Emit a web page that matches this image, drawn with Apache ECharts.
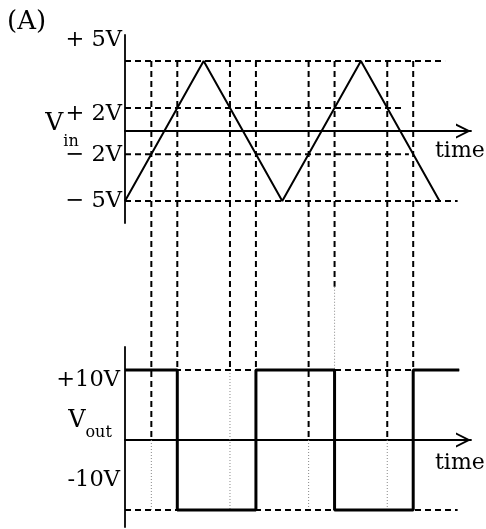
<!DOCTYPE html>
<html>
<head>
<meta charset="utf-8">
<title>Vin / Vout</title>
<script src="https://cdn.jsdelivr.net/npm/echarts@6/dist/echarts.min.js"></script>
<style>
	html, body { margin: 0; padding: 0; background: #fff; }
	#main { width: 486px; height: 529px; }
</style>
</head>
<body>
<div id="main"></div>
<script>
	// input triangle wave
	var vinTime = [0, 10, 20, 30, 40];
	var vinVolts = [-5, 5, -5, 5, -5];
	// output square wave
	var voutTime = [0, 6.65, 6.65, 16.65, 16.65, 26.65, 26.65, 36.65, 36.65, 42.5];
	var voutVolts = [10, 10, -10, -10, 10, 10, -10, -10, 10, 10];

	// dashed levels of the input plot (as drawn) and where each stops
	var vinLevels = [5, 1.65, -1.65, -5];
	var vinLevelEnds = [40.7, 35.6, 36.1, 42.3];
	var vinTickLabels = ['+ 5V', '+ 2V', '− 2V', '− 5V'];
	// dashed levels of the output plot
	var voutLevels = [10, -10];
	var voutLevelEnds = [42.5, 42.3];
	var voutTickLabels = ['+10V', '-10V'];

	// times where the input crosses the thresholds
	var crossTimes = [3.35, 6.65, 13.35, 16.65, 23.35, 26.65, 33.35, 36.65];
	// output value where the dashed guide stops, then where its dotted part stops
	var guideDashEnd = [0, 10, 10, 10, 0, 21.9, 0, 10];
	var guideDotEnd = [-10, 10, -10, 10, -10, 10, -10, 10];

	// label nudges in px (down is +), layout only
	var vinLabelShift = [-21, 6, 1, 0];
	var voutLabelShift = [10, -30];

	var FONT = '"DejaVu Serif"';
	var arrow = 'path://M50,0 L100,100 L86,100 L50,28 L14,100 L0,100 Z';

	function labelFormatter(values, labels, key) {
		return function (val) {
			for (var i = 0; i < values.length; i++) {
				if (Math.abs(values[i] - val) < 1e-6) {
					return '{' + key + i + '|' + labels[i] + '}';
				}
			}
			return '';
		};
	}
	function labelRich(shifts, key) {
		var rich = {};
		shifts.forEach(function (s, i) {
			rich[key + i] = {
				fontFamily: FONT,
				fontSize: 22.5,
				color: '#000',
				padding: s < 0 ? [0, 0, -2 * s, 0] : [2 * s, 0, 0, 0]
			};
		});
		return rich;
	}
	function zip(a, b) {
		return a.map(function (v, i) { return [v, b[i]]; });
	}

	var myChart = echarts.init(document.getElementById('main'));

	var series = [];

	// vertical guides from the input plot down into the output plot
	series.push({
		type: 'custom',
		xAxisIndex: 1,
		yAxisIndex: 1,
		z: 1,
		silent: true,
		data: crossTimes.map(function (t, i) { return [t, guideDashEnd[i], guideDotEnd[i]]; }),
		renderItem: function (params, api) {
			var t = api.value(0);
			var top = myChart.convertToPixel({gridIndex: 0}, [t, vinLevels[0]]);
			var mid = api.coord([t, api.value(1)]);
			var end = api.coord([t, api.value(2)]);
			var kids = [{
				type: 'line',
				shape: {x1: mid[0], y1: top[1], x2: mid[0], y2: mid[1]},
				style: {stroke: '#000', lineWidth: 2, lineDash: [6, 4]}
			}];
			if (api.value(2) !== api.value(1)) {
				kids.push({
					type: 'line',
					shape: {x1: mid[0], y1: mid[1], x2: end[0], y2: end[1]},
					style: {stroke: '#888', lineWidth: 1, lineDash: [1, 2]}
				});
			}
			return {type: 'group', children: kids};
		}
	});

	vinLevels.forEach(function (lv, i) {
		series.push({
			type: 'line', xAxisIndex: 0, yAxisIndex: 0, z: 1, silent: true,
			symbol: 'none',
			data: [[0, lv], [vinLevelEnds[i], lv]],
			lineStyle: {color: '#000', width: 2, type: [6, 4]}
		});
	});
	voutLevels.forEach(function (lv, i) {
		series.push({
			type: 'line', xAxisIndex: 1, yAxisIndex: 1, z: 1, silent: true,
			symbol: 'none',
			data: [[0, lv], [voutLevelEnds[i], lv]],
			lineStyle: {color: '#000', width: 2, type: [6, 4]}
		});
	});

	series.push({
		name: 'Vin', type: 'line', xAxisIndex: 0, yAxisIndex: 0, z: 3,
		symbol: 'none',
		data: zip(vinTime, vinVolts),
		lineStyle: {color: '#000', width: 2}
	});
	series.push({
		name: 'Vout', type: 'line', xAxisIndex: 1, yAxisIndex: 1, z: 3,
		symbol: 'none',
		data: zip(voutTime, voutVolts),
		lineStyle: {color: '#000', width: 3}
	});

	function timeAxis(gridIndex, nameDrop) {
		return {
			type: 'value', gridIndex: gridIndex, min: 0, max: 44,
			name: '{t|time}', nameLocation: 'end', nameGap: -36,
			nameTextStyle: {
				align: 'left', verticalAlign: 'middle',
				rich: {
					t: {fontFamily: FONT, fontSize: 22, color: '#000', padding: [nameDrop * 2, 0, 0, 0]}
				}
			},
			axisLine: {
				show: true, onZero: true,
				symbol: ['none', arrow], symbolSize: [15, 16], symbolOffset: [0, -7.5],
				lineStyle: {color: '#000', width: 1.8}
			},
			axisTick: {show: false},
			axisLabel: {show: false},
			splitLine: {show: false}
		};
	}

	var option = {
		animation: false,
		backgroundColor: '#fff',
		grid: [
			{left: 125, top: 35, width: 346, height: 188, outerBoundsMode: 'none'},
			{left: 125, top: 347, width: 346, height: 180, outerBoundsMode: 'none'}
		],
		xAxis: [timeAxis(0, 20), timeAxis(1, 23)],
		yAxis: [{
			type: 'value', gridIndex: 0, min: -6.57, max: 6.86,
			name: '{v|V}{s|in}', nameLocation: 'middle', nameRotate: 0, nameGap: 63,
			nameMoveOverlap: false,
			nameTextStyle: {
				align: 'center', verticalAlign: 'middle', padding: [0, 0, 11, 0],
				rich: {
					v: {fontFamily: FONT, fontSize: 25, color: '#000'},
					s: {fontFamily: FONT, fontSize: 16, color: '#000', padding: [36, 0, 0, 0]}
				}
			},
			axisLine: {show: true, onZero: false, lineStyle: {color: '#000', width: 1.8}},
			axisTick: {show: false},
			splitLine: {show: false},
			axisLabel: {
				margin: 3,
				customValues: vinLevels,
				formatter: labelFormatter(vinLevels, vinTickLabels, 'a'),
				rich: labelRich(vinLabelShift, 'a')
			}
		}, {
			type: 'value', gridIndex: 1, min: -12.43, max: 13.29,
			name: '{v|V}{s|out}', nameLocation: 'middle', nameRotate: 0, nameGap: 35,
			nameMoveOverlap: false,
			nameTextStyle: {
				align: 'center', verticalAlign: 'middle', padding: [0, 0, 32, 0],
				rich: {
					v: {fontFamily: FONT, fontSize: 24, color: '#000'},
					s: {fontFamily: FONT, fontSize: 16, color: '#000', padding: [23, 0, 0, 0]}
				}
			},
			axisLine: {show: true, onZero: false, lineStyle: {color: '#000', width: 1.8}},
			axisTick: {show: false},
			splitLine: {show: false},
			axisLabel: {
				margin: 5,
				customValues: voutLevels,
				formatter: labelFormatter(voutLevels, voutTickLabels, 'b'),
				rich: labelRich(voutLabelShift, 'b')
			}
		}],
		graphic: [{
			type: 'text', left: 7, top: 9,
			style: {text: '(A)', font: '26px ' + FONT, fill: '#000'}
		}],
		series: series
	};

	myChart.setOption(option);
</script>
</body>
</html>
